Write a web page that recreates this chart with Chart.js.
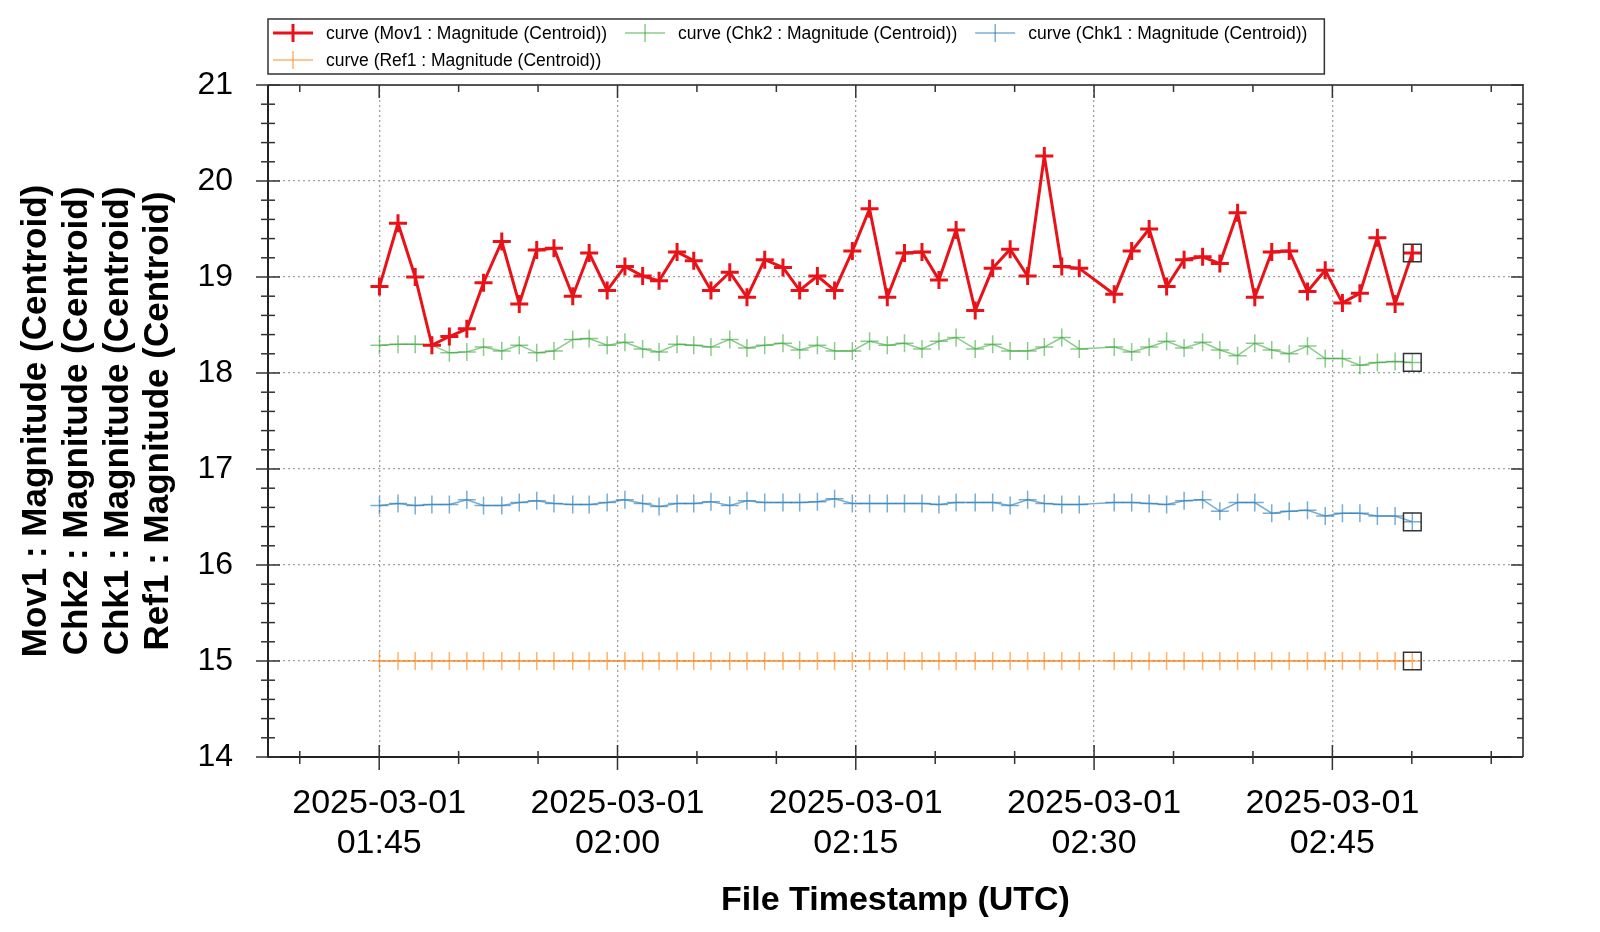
<!DOCTYPE html>
<html>
<head>
<meta charset="utf-8">
<script src="https://cdn.jsdelivr.net/npm/chart.js@4.4.1/dist/chart.umd.min.js"></script>
<style>
html,body{margin:0;padding:0;background:#fff;}
#wrap{width:1600px;height:932px;}
</style>
</head>
<body>
<div id="wrap"><canvas id="c" width="1600" height="932"></canvas></div>
<script>
// ---------------- data ----------------
const timeStamps = [
'01:45:01','01:46:11','01:47:16','01:48:19','01:49:25','01:50:31','01:51:34','01:52:43','01:53:49','01:54:55',
'01:56:00','01:57:11','01:58:13','01:59:21','02:00:28','02:01:35','02:02:37','02:03:45','02:04:48','02:05:53',
'02:07:04','02:08:09','02:09:16','02:10:25','02:11:28','02:12:35','02:13:40','02:14:47','02:15:52','02:16:59',
'02:18:04','02:19:10','02:20:14','02:21:19','02:22:31','02:23:37','02:24:43','02:25:49','02:26:52','02:27:58',
'02:29:04','02:31:16','02:32:22','02:33:28','02:34:34','02:35:40','02:36:50','02:37:55','02:39:02','02:40:07',
'02:41:11','02:42:17','02:43:26','02:44:33','02:45:38','02:46:44','02:47:50','02:48:57','02:50:02'];

const mov1 = [18.90,19.56,19.00,18.29,18.38,18.46,18.94,19.37,18.72,19.28,
19.30,18.80,19.25,18.86,19.11,19.01,18.96,19.26,19.17,18.86,
19.05,18.79,19.18,19.10,18.86,19.01,18.86,19.27,19.71,18.79,
19.25,19.26,18.97,19.49,18.65,19.09,19.29,19.01,20.26,19.11,
19.09,18.82,19.27,19.50,18.90,19.18,19.21,19.14,19.67,18.79,
19.26,19.27,18.85,19.07,18.73,18.83,19.41,18.72,19.25];

const chk2 = [18.29,18.30,18.30,18.29,18.21,18.22,18.27,18.23,18.29,18.21,
18.23,18.35,18.36,18.29,18.32,18.25,18.22,18.30,18.29,18.27,
18.35,18.26,18.29,18.31,18.24,18.29,18.23,18.23,18.33,18.29,
18.31,18.25,18.33,18.37,18.25,18.30,18.23,18.23,18.27,18.37,
18.25,18.27,18.22,18.27,18.33,18.26,18.32,18.24,18.18,18.31,
18.24,18.20,18.28,18.15,18.15,18.08,18.11,18.12,18.11];

const chk1 = [16.62,16.64,16.62,16.63,16.63,16.68,16.62,16.62,16.65,16.67,
16.64,16.63,16.63,16.65,16.68,16.64,16.61,16.64,16.64,16.66,
16.62,16.67,16.65,16.65,16.65,16.66,16.69,16.64,16.64,16.64,
16.64,16.64,16.63,16.65,16.65,16.65,16.62,16.68,16.64,16.63,
16.63,16.65,16.65,16.64,16.63,16.67,16.68,16.56,16.65,16.65,
16.54,16.56,16.57,16.51,16.54,16.54,16.51,16.51,16.45];

const ref1 = [15.00,15.00,15.00,15.00,15.00,15.00,15.00,15.00,15.00,15.00,
15.00,15.00,15.00,15.00,15.00,15.00,15.00,15.00,15.00,15.00,
15.00,15.00,15.00,15.00,15.00,15.00,15.00,15.00,15.00,15.00,
15.00,15.00,15.00,15.00,15.00,15.00,15.00,15.00,15.00,15.00,
15.00,15.00,15.00,15.00,15.00,15.00,15.00,15.00,15.00,15.00,
15.00,15.00,15.00,15.00,15.00,15.00,15.00,15.00,15.00];

const seriesLabels = [
  'curve (Mov1 : Magnitude (Centroid))',
  'curve (Chk2 : Magnitude (Centroid))',
  'curve (Chk1 : Magnitude (Centroid))',
  'curve (Ref1 : Magnitude (Centroid))'
];
const xTickLabels = ['01:45','02:00','02:15','02:30','02:45'];
const xDateLabel = '2025-03-01';
const xRange = ['01:38:00','02:57:00'];
const yRange = [14, 21];
const xTitle = 'File Timestamp (UTC)';
const yTitle = [
  'Mov1 : Magnitude (Centroid)',
  'Chk2 : Magnitude (Centroid)',
  'Chk1 : Magnitude (Centroid)',
  'Ref1 : Magnitude (Centroid)'
];

// ---------------- helpers ----------------
function toMin(s){ const p = s.split(':').map(Number); return p[0]*60 + p[1] + (p[2]||0)/60; }
function fmtMin(v){ const h = Math.floor(v/60), m = Math.round(v - h*60); return String(h).padStart(2,'0')+':'+String(m).padStart(2,'0'); }
const xs = timeStamps.map(toMin);
const pts = arr => arr.map((v,i)=>({x:xs[i], y:v}));

const FONT = '"Liberation Sans", Arial, Helvetica, sans-serif';
Chart.defaults.font.family = FONT;
Chart.defaults.color = '#000';

const styles = [
  {color:'rgb(232,18,24)', width:3, pw:3},
  {color:'rgba(44,160,44,0.55)', width:1.5, pw:1.5},
  {color:'rgba(31,119,180,0.6)', width:1.5, pw:1.5},
  {color:'rgba(255,127,14,0.6)', width:1.5, pw:1.5}
];
const seriesData = [mov1, chk2, chk1, ref1];

const datasets = seriesData.map((arr,i)=>({
  label: seriesLabels[i],
  data: pts(arr),
  borderColor: styles[i].color,
  backgroundColor: styles[i].color,
  borderWidth: styles[i].width,
  pointStyle: 'cross',
  pointRadius: 9,
  pointHoverRadius: 9,
  pointBorderWidth: styles[i].pw,
  pointBorderColor: styles[i].color,
  tension: 0,
  fill: false
}));
// latest-value markers
datasets.push({
  label: 'latest',
  data: seriesData.map(arr => ({x: xs[arr.length-1], y: arr[arr.length-1]})),
  showLine: false,
  pointStyle: 'rect',
  pointRadius: 12.5,
  pointHoverRadius: 12.5,
  pointBorderWidth: 1.5,
  pointBorderColor: '#333',
  pointBackgroundColor: 'rgba(0,0,0,0)',
  order: -1
});

// ---------------- plugins ----------------
const frameTicks = {
  id:'frameTicks',
  afterDraw(chart){
    const ctx = chart.ctx, ca = chart.chartArea;
    const sx = chart.scales.x, sy = chart.scales.y;
    ctx.save();
    ctx.lineCap = 'butt';
    ctx.strokeStyle = '#555'; ctx.lineWidth = 2;
    ctx.beginPath(); ctx.moveTo(ca.left, ca.top); ctx.lineTo(ca.right, ca.top); ctx.lineTo(ca.right, ca.bottom); ctx.stroke();
    ctx.strokeStyle = '#222'; ctx.lineWidth = 2;
    ctx.beginPath(); ctx.moveTo(ca.left, ca.top); ctx.lineTo(ca.left, ca.bottom); ctx.lineTo(ca.right, ca.bottom); ctx.stroke();
    ctx.lineWidth = 1.5; ctx.strokeStyle = '#333';
    const majX = xTickLabels.map(toMin);
    for (let v = Math.ceil(sx.min/5)*5; v <= sx.max; v += 5) {
      const p = sx.getPixelForValue(v);
      const major = majX.some(m => Math.abs(m-v) < 1e-6);
      const a = major ? 12 : 6, b = major ? 13 : 7;
      ctx.beginPath(); ctx.moveTo(p, ca.bottom - a); ctx.lineTo(p, ca.bottom + b); ctx.stroke();
      ctx.beginPath(); ctx.moveTo(p, ca.top); ctx.lineTo(p, ca.top + (major ? 13 : 7)); ctx.stroke();
    }
    for (let k = Math.round(sy.min*5); k <= Math.round(sy.max*5); k++) {
      const v = k/5;
      const p = sy.getPixelForValue(v);
      const major = (k % 5) === 0;
      const a = major ? 12 : 7;
      ctx.beginPath(); ctx.moveTo(ca.left - a, p); ctx.lineTo(ca.left + a, p); ctx.stroke();
      ctx.beginPath(); ctx.moveTo(ca.right, p); ctx.lineTo(ca.right - (major ? 12 : 6), p); ctx.stroke();
    }
    ctx.restore();
  }
};

const boxLegend = {
  id:'boxLegend',
  afterDraw(chart){
    const ctx = chart.ctx, ca = chart.chartArea;
    ctx.save();
    ctx.font = '17.5px ' + FONT;
    ctx.textBaseline = 'middle';
    ctx.textAlign = 'left';
    const rows = [[0,1,2],[3]];
    const rowY = [33, 60];
    const top = 19, bottom = 74;
    let maxRight = 0;
    rows.forEach((row, r) => {
      let x = ca.left + 5;
      row.forEach(i => {
        const ds = chart.data.datasets[i];
        const y = rowY[r];
        ctx.strokeStyle = ds.borderColor;
        ctx.lineWidth = ds.borderWidth;
        ctx.beginPath(); ctx.moveTo(x, y); ctx.lineTo(x+40, y); ctx.stroke();
        ctx.lineWidth = ds.pointBorderWidth;
        ctx.beginPath(); ctx.moveTo(x+20, y-9); ctx.lineTo(x+20, y+9); ctx.stroke();
        ctx.fillStyle = '#000';
        ctx.fillText(ds.label, x+53, y+1);
        const w = ctx.measureText(ds.label).width;
        maxRight = Math.max(maxRight, x + 53 + w);
        x += 53 + w + 18;
      });
    });
    ctx.strokeStyle = '#333'; ctx.lineWidth = 1.5;
    ctx.strokeRect(ca.left, top, (maxRight + 17) - ca.left, bottom - top);
    ctx.restore();
  }
};

// ---------------- chart ----------------
new Chart(document.getElementById('c'), {
  type: 'line',
  data: { datasets },
  options: {
    responsive: false,
    animation: false,
    events: [],
    layout: { padding: { left: 8, right: 77, top: 85, bottom: 0 } },
    plugins: { legend: { display: false }, tooltip: { enabled: false } },
    scales: {
      x: {
        type: 'linear',
        min: toMin(xRange[0]),
        max: toMin(xRange[1]),
        afterBuildTicks: s => { s.ticks = xTickLabels.map(l => ({ value: toMin(l) })); },
        ticks: {
          autoSkip: false, maxRotation: 0, minRotation: 0,
          padding: 27,
          color: '#000',
          font: { size: 34, lineHeight: 1.176 },
          callback: v => [xDateLabel, fmtMin(v)]
        },
        grid: { color: '#a0a0a0', lineWidth: 1.3, drawTicks: false },
        border: { display: false, dash: [2, 3] },
        title: { display: true, text: xTitle, color: '#000',
                 font: { size: 34, weight: 'bold', lineHeight: 1.2 }, padding: { top: 0, bottom: 11 } },
        afterFit: s => { s.height = 175; }
      },
      y: {
        type: 'linear',
        min: yRange[0], max: yRange[1],
        ticks: { stepSize: 1, padding: 35, color: '#000', font: { size: 32 } },
        grid: { color: '#a0a0a0', lineWidth: 1.3, drawTicks: false },
        border: { display: false, dash: [2, 3] },
        title: { display: true, text: yTitle, color: '#000',
                 font: { size: 35, weight: 'bold', lineHeight: 1.16 }, padding: { top: 8.5, bottom: 0 } },
        afterFit: s => { s.width = 260; }
      }
    }
  },
  plugins: [frameTicks, boxLegend]
});
</script>
</body>
</html>
